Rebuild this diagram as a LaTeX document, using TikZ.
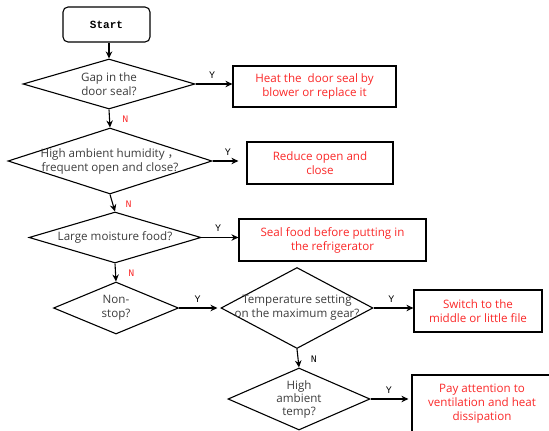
\documentclass[tikz,border=0pt]{standalone}
\usepackage{fontspec}
\setmainfont{Open Sans}
\setmonofont{Liberation Mono}
\newfontfamily\cjk{Noto Sans CJK SC}
\usetikzlibrary{arrows.meta, positioning, shapes.geometric}
\definecolor{alertred}{RGB}{250,40,40}
\definecolor{textgray}{RGB}{60,60,60}

\begin{document}
\begin{tikzpicture}[
        x=1pt, y=-1pt,
        every node/.style={font=\fontsize{11.6}{14}\selectfont},
        startbox/.style={draw, rounded corners=5pt, line width=1.1pt, minimum width=87pt, minimum height=35pt, font=\ttfamily\bfseries\fontsize{11}{13}\selectfont},
        question/.style={draw, diamond, line width=1.1pt, inner sep=0pt},
        qtext/.style={align=center, text=textgray},
        action/.style={draw, rectangle, line width=1.2pt, inner sep=0pt, align=center, text=alertred},
        flow/.style={line width=1.1pt, -{Stealth[length=7pt,width=6.5pt]}},
        ylabel/.style={font=\ttfamily\fontsize{10}{10}\selectfont, above=2pt, pos=.45},
        nlabel/.style={font=\ttfamily\fontsize{10}{10}\selectfont, right=9pt, pos=.55}
    ]
        \useasboundingbox (0,0) rectangle (549,431);
        \clip (0,0) rectangle (549,431);

        % decisions down the left
        \node[startbox] (start) at (106.5,24.5) {Start};
        \node[question, minimum width=172pt, minimum height=50pt,
            label={[qtext]center:{Gap in the\\door seal?}}] (q1) at (109,84) {};
        \node[question, minimum width=204pt, minimum height=66pt,
            label={[qtext]center:{High ambient humidity {\cjk ，}\\frequent open and close?}}] (q2) at (110,161) {};
        \node[question, minimum width=172pt, minimum height=51pt,
            label={[qtext]center:{Large moisture food?}}] (q3) at (115,237.5) {};
        \node[question, minimum width=125pt, minimum height=52pt,
            label={[qtext]center:{Non-\\stop?}}] (q4) at (116,308) {};
        \node[question, minimum width=152pt, minimum height=81pt,
            label={[qtext]center:{Temperature setting\\on the maximum gear?}}] (q5) at (297,308) {};
        \node[question, minimum width=142pt, minimum height=62pt,
            label={[qtext, font=\fontsize{11.6}{13}\selectfont]center:{High\\ambient\\temp?}}] (q6) at (299,399) {};

        % actions on the right
        \node[action, minimum width=163pt, minimum height=41pt] (a1) at (314.5,86.5) {Heat the \ door seal by\\blower or replace it};
        \node[action, minimum width=146pt, minimum height=42pt] (a2) at (320,163) {Reduce open and\\close};
        \node[action, minimum width=187pt, minimum height=42pt] (a3) at (332.5,240) {Seal food before putting in\\the refrigerator};
        \node[action, minimum width=128pt, minimum height=42pt] (a4) at (478,311) {Switch to the\\middle or little file};
        \node[action, minimum width=140pt, minimum height=58pt] (a5) at (482,404) {Pay attention to\\ventilation and heat\\dissipation};

        \draw[flow] (start.south -| q1.north) -- (q1.north);

        \foreach \a/\b/\s in {q1/a1/0, q2/a2/8, q3/a3/0, q4/q5/3, q5/a4/0, q6/a5/3} {
            \draw[flow, shorten >=\s pt] (\a.east) -- node[ylabel] {Y} (\a.east -| \b.west);
        }

        \foreach \a/\b/\c in {q1/q2/alertred, q2/q3/alertred, q3/q4/alertred, q5/q6/black} {
            \draw[flow] (\a.south) -- node[nlabel, text=\c] {N} (\b.north);
        }
    \end{tikzpicture}
\end{document}
